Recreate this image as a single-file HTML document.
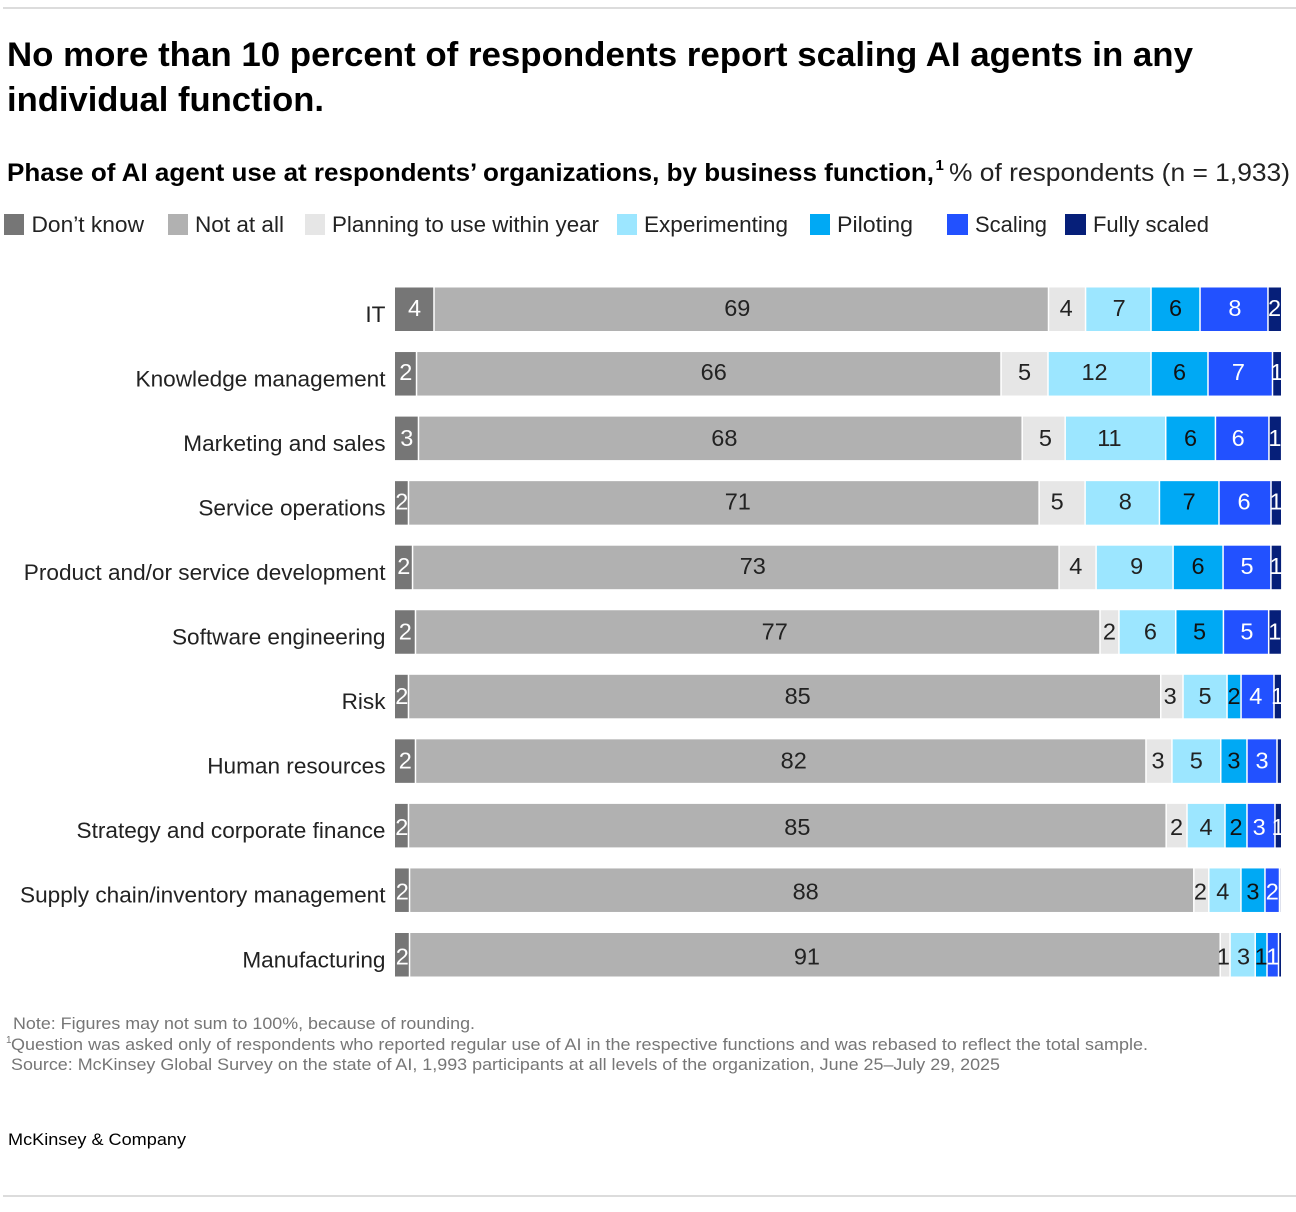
<!DOCTYPE html>
<html lang="en">
<head>
<meta charset="utf-8">
<title>Phase of AI agent use by business function</title>
<style>
html,body{margin:0;padding:0;background:#fff;}
svg{display:block;font-family:"Liberation Sans",Arial,sans-serif;}
</style>
</head>
<body>
<svg id="chart" xmlns="http://www.w3.org/2000/svg" width="1296" height="1212" viewBox="0 0 1296 1212">
  <rect x="0" y="0" width="1296" height="1212" fill="#ffffff"/>
  <line x1="3" y1="8" x2="1296" y2="8" stroke="#b8b8b8" stroke-width="1"/>

  <g font-size="34" font-weight="700" fill="#000000">
    <text x="7" y="66" textLength="1186" lengthAdjust="spacingAndGlyphs">No more than 10 percent of respondents report scaling AI agents in any</text>
    <text x="7" y="111" textLength="317" lengthAdjust="spacingAndGlyphs">individual function.</text>
  </g>

  <g font-size="25">
    <text x="7" y="181" font-weight="700" fill="#000000" textLength="927" lengthAdjust="spacingAndGlyphs">Phase of AI agent use at respondents’ organizations, by business function,</text>
    <text x="935.5" y="170" font-size="15" font-weight="700" fill="#000000">1</text>
    <text x="949" y="181" fill="#222222" textLength="341" lengthAdjust="spacingAndGlyphs">% of respondents (n = 1,933)</text>
  </g>

  <g font-size="22" fill="#222222">
    <g>
      <rect x="4" y="214" width="20" height="21" fill="#767676"/>
      <text x="31.5" y="232" textLength="112.5" lengthAdjust="spacingAndGlyphs">Don’t know</text>
    </g>
    <g>
      <rect x="168" y="214" width="20" height="21" fill="#b1b1b1"/>
      <text x="195" y="232" textLength="89" lengthAdjust="spacingAndGlyphs">Not at all</text>
    </g>
    <g>
      <rect x="305" y="214" width="20" height="21" fill="#e6e6e6"/>
      <text x="332" y="232" textLength="267" lengthAdjust="spacingAndGlyphs">Planning to use within year</text>
    </g>
    <g>
      <rect x="617" y="214" width="20" height="21" fill="#9ce6ff"/>
      <text x="644" y="232" textLength="144" lengthAdjust="spacingAndGlyphs">Experimenting</text>
    </g>
    <g>
      <rect x="810" y="214" width="20" height="21" fill="#00a9f4"/>
      <text x="837" y="232" textLength="76" lengthAdjust="spacingAndGlyphs">Piloting</text>
    </g>
    <g>
      <rect x="947" y="214" width="21" height="21" fill="#2251ff"/>
      <text x="975" y="232" textLength="72" lengthAdjust="spacingAndGlyphs">Scaling</text>
    </g>
    <g>
      <rect x="1065" y="214" width="21" height="21" fill="#061f79"/>
      <text x="1093" y="232" textLength="116" lengthAdjust="spacingAndGlyphs">Fully scaled</text>
    </g>
  </g>

  <g id="plot"></g>

  <g font-size="17" fill="#767676">
    <text x="13" y="1029" textLength="462" lengthAdjust="spacingAndGlyphs">Note: Figures may not sum to 100%, because of rounding.</text>
    <text x="6" y="1043" font-size="10">1</text>
    <text x="11" y="1050" textLength="1137" lengthAdjust="spacingAndGlyphs">Question was asked only of respondents who reported regular use of AI in the respective functions and was rebased to reflect the total sample.</text>
    <text x="11" y="1070" textLength="989" lengthAdjust="spacingAndGlyphs">Source: McKinsey Global Survey on the state of AI, 1,993 participants at all levels of the organization, June 25–July 29, 2025</text>
  </g>

  <text x="8" y="1145" font-size="17" fill="#000000" textLength="178" lengthAdjust="spacingAndGlyphs">McKinsey &amp; Company</text>
  <line x1="3" y1="1196" x2="1296" y2="1196" stroke="#b8b8b8" stroke-width="1"/>
</svg>

<script>
const categories = ["IT","Knowledge management","Marketing and sales","Service operations","Product and/or service development","Software engineering","Risk","Human resources","Strategy and corporate finance","Supply chain/inventory management","Manufacturing"];

// Bar lengths, % of respondents
const dontKnow      = [4.40, 2.43, 2.65, 1.52, 1.98, 2.31, 1.52, 2.31, 1.52, 1.64, 1.64];
const notAtAll      = [69.36, 65.97, 68.14, 71.18, 72.97, 77.26, 84.91, 82.45, 85.52, 88.52, 91.50];
const planning      = [4.18, 5.30, 4.85, 5.19, 4.18, 2.14, 2.51, 2.93, 2.35, 1.69, 1.11];
const experimenting = [7.39, 11.63, 11.35, 8.39, 8.69, 6.41, 4.97, 5.51, 4.29, 3.63, 2.84];
const piloting      = [5.53, 6.43, 5.61, 6.72, 5.64, 5.38, 1.58, 2.96, 2.48, 2.71, 1.33];
const scaling       = [7.67, 7.28, 6.04, 5.87, 5.40, 5.11, 3.72, 3.39, 3.16, 1.64, 1.30];
const fullyScaled   = [1.47, 0.96, 1.35, 1.13, 1.15, 1.38, 0.79, 0.45, 0.68, 0.10, 0.28];

// Printed labels as they appear on the bars (blank where the picture prints none)
const dontKnowLabels      = ["4","2","3","2","2","2","2","2","2","2","2"];
const notAtAllLabels      = ["69","66","68","71","73","77","85","82","85","88","91"];
const planningLabels      = ["4","5","5","5","4","2","3","3","2","2","1"];
const experimentingLabels = ["7","12","11","8","9","6","5","5","4","4","3"];
const pilotingLabels      = ["6","6","6","7","6","5","2","3","2","3","1"];
const scalingLabels       = ["8","7","6","6","5","5","4","3","3","2","1"];
const fullyScaledLabels   = ["2","1","1","1","1","1","1","","1","",""];

// How far each label sits from its segment's centre, in percentage points
const noLabelShift = [0, 0, 0, 0, 0, 0, 0, 0, 0, 0, 0];
const notAtAllLabelShift = [-0.45, 0.56, 0.45, 1.58, 1.92, 1.92, 1.47, 1.47, 1.13, 0.45, -0.9];
const planningLabelShift = [-0.1, 0, 0.2, -0.56, -0.2, 0, -0.2, -0.1, 0, -0.1, -0.2];
const experimentingLabelShift = [0.1, -0.56, -0.68, 0.34, 0.23, 0.34, 0, 0, 0, -0.23, 0.1];
const scalingLabelShift = [0.1, -0.2, -0.45, -0.1, 0, 0.1, -0.2, 0, -0.2, 0, 0];

const seriesValues = [dontKnow, notAtAll, planning, experimenting, piloting, scaling, fullyScaled];
const seriesLabels = [dontKnowLabels, notAtAllLabels, planningLabels, experimentingLabels, pilotingLabels, scalingLabels, fullyScaledLabels];
const seriesLabelShifts = [noLabelShift, notAtAllLabelShift, planningLabelShift, experimentingLabelShift, noLabelShift, scalingLabelShift, noLabelShift];
const seriesSlugs = ["dont-know","not-at-all","planning","experimenting","piloting","scaling","fully-scaled"];
const seriesFills = ["#767676","#b1b1b1","#e6e6e6","#9ce6ff","#00a9f4","#2251ff","#061f79"];
const seriesInk = ["#ffffff","#222222","#222222","#222222","#111111","#ffffff","#ffffff"];

// Vertical drift of a row's value labels relative to its bar
const rowLabelDrift = [-1, -1.5, 0, -1, -1, 0, 0, 0, 2, 2, 2];

const SVG_NS = "http://www.w3.org/2000/svg";
const plotLeft = 395;
const plotWidth = 886;
const plotTop = 287.5;
const rowStep = 64.55;
const barHeight = 43.5;
const gap = 1.5;

function xScale(v) { return plotLeft + v / 100 * plotWidth; }
function rowTop(i) { return plotTop + i * rowStep; }
function rowCentre(i) { return rowTop(i) + barHeight / 2; }

const plot = document.getElementById("plot");

categories.forEach(function (name, i) {
  const row = document.createElementNS(SVG_NS, "g");
  
  
  plot.appendChild(row);

  const cat = document.createElementNS(SVG_NS, "text");
  
  
  cat.setAttribute("x", 385.5);
  cat.setAttribute("y", rowCentre(i) + 12.5);
  cat.setAttribute("text-anchor", "end");
  cat.setAttribute("font-size", "22.6");
  cat.setAttribute("fill", "#222222");
  cat.textContent = name;
  row.appendChild(cat);

  let cumulative = 0;
  seriesValues.forEach(function (values, s) {
    const v = values[i];
    const x0 = xScale(cumulative) + (s === 0 ? 0 : gap / 2);
    const x1 = xScale(cumulative + v) - (s === seriesValues.length - 1 ? 0 : gap / 2);

    const bar = document.createElementNS(SVG_NS, "rect");
    
    
    bar.setAttribute("x", x0);
    bar.setAttribute("y", rowTop(i));
    bar.setAttribute("width", Math.max(0, x1 - x0));
    bar.setAttribute("height", barHeight);
    bar.setAttribute("fill", seriesFills[s]);
    row.appendChild(bar);

    const printed = seriesLabels[s][i];
    if (printed !== "") {
      const label = document.createElementNS(SVG_NS, "text");
      
      
      label.setAttribute("x", xScale(cumulative + v / 2 + seriesLabelShifts[s][i]));
      label.setAttribute("y", rowCentre(i) + 7.5 + rowLabelDrift[i]);
      label.setAttribute("text-anchor", "middle");
      label.setAttribute("font-size", "23.5");
      label.setAttribute("fill", seriesInk[s]);
      label.textContent = printed;
      row.appendChild(label);
    }
    cumulative += v;
  });
});
</script>
</body>
</html>
